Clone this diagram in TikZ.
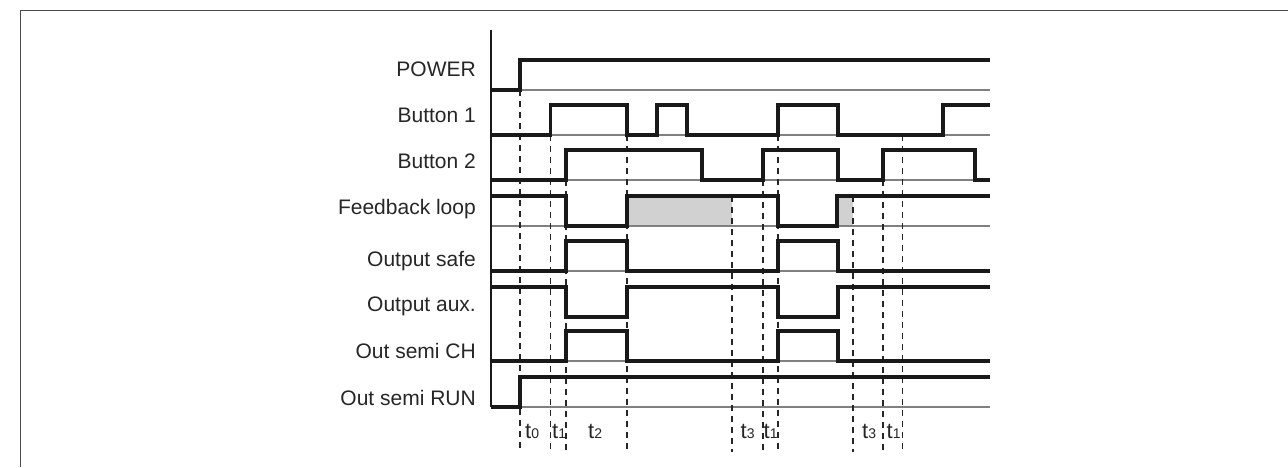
\documentclass[tikz,border=0pt]{standalone}
\usepackage{fontspec}
\setmainfont{Liberation Sans}
\newcommand\tsub[1]{t{\fontsize{14}{14}\selectfont #1}}
\begin{document}
\begin{tikzpicture}[x=1pt,y=-1pt,
  sig/.style={line width=3.1pt, line join=miter, black!90},
  baseln/.style={line width=1.3pt, black!50},
  guide/.style={line width=1.5pt, dash pattern=on 6pt off 5pt, black!85},
  lab/.style={anchor=base east, inner sep=0pt, font=\fontsize{21}{21}\selectfont, text=black!85},
  tlab/.style={anchor=base west, inner sep=0pt, font=\fontsize{22}{22}\selectfont, text=black!85},
  frameln/.style={line width=1pt, black!70}]
\useasboundingbox (0,0) rectangle (1288,467);
% frame
\draw[frameln] (20,467) -- (20,10) -- (1288,10);
% gray areas
\fill[black!18] (627,196) rectangle (732,226);
\fill[black!18] (837,196) rectangle (853,226);
% baselines
\foreach \y in {90,135,180,226,271,361,407} \draw[baseln] (491,\y) -- (990,\y);
% axis
\draw[line width=1.5pt, black!90] (491,30) -- (491,407);
% guides
\draw[guide] (520,90) -- (520,452);
\draw[guide] (550.5,135) -- (550.5,452);
\draw[guide] (566,180) -- (566,452);
\draw[guide] (627,135) -- (627,452);
\draw[guide] (732,196) -- (732,452);
\draw[guide] (763,180) -- (763,452);
\draw[guide] (778,135) -- (778,452);
\draw[guide] (853,196) -- (853,452);
\draw[guide] (883,180) -- (883,452);
\draw[guide] (902.7,135) -- (902.7,452);
% signals
\draw[sig] (491,90) -- (520,90) -- (520,60) -- (990,60);
\draw[sig] (491,135) -- (550.5,135) -- (550.5,105) -- (627,105) -- (627,135) -- (657,135) -- (657,105) -- (687,105) -- (687,135) -- (778,135) -- (778,105) -- (838,105) -- (838,135) -- (943,135) -- (943,105) -- (990,105);
\draw[sig] (491,180) -- (566,180) -- (566,150) -- (702,150) -- (702,180) -- (763,180) -- (763,150) -- (838,150) -- (838,180) -- (883,180) -- (883,150) -- (975,150) -- (975,180) -- (990,180);
\draw[sig] (491,196) -- (566,196) -- (566,226) -- (627,226) -- (627,196) -- (778,196) -- (778,226) -- (837,226) -- (837,196) -- (990,196);
\draw[sig] (491,271) -- (566,271) -- (566,241) -- (627,241) -- (627,271) -- (778,271) -- (778,241) -- (838,241) -- (838,271) -- (990,271);
\draw[sig] (491,287) -- (566,287) -- (566,317) -- (627,317) -- (627,287) -- (778,287) -- (778,317) -- (838,317) -- (838,287) -- (990,287);
\draw[sig] (491,361) -- (566,361) -- (566,331) -- (627,331) -- (627,361) -- (778,361) -- (778,331) -- (838,331) -- (838,361) -- (990,361);
\draw[sig] (491,407) -- (520,407) -- (520,377) -- (990,377);
% labels
\node[lab] (lpower) at (476,76.7) {POWER};
\node[lab] (lb1) at (476,122.3) {Button 1};
\node[lab] (lb2) at (476,168.3) {Button 2};
\node[lab] (lfb) at (476,214) {Feedback loop};
\node[lab] (lsafe) at (476,266) {Output safe};
\node[lab] (laux) at (476,311.7) {Output aux.};
\node[lab] (lch) at (476,358.3) {Out semi CH};
\node[lab] (lrun) at (476,405) {Out semi RUN};
% time labels
\node[tlab] (tz) at (525,438) {\tsub{0}};
\node[tlab] (ta) at (552,438) {\tsub{1}};
\node[tlab] (tb) at (588,438) {\tsub{2}};
\node[tlab] (tc) at (740.5,438) {\tsub{3}};
\node[tlab] (td) at (763.5,438) {\tsub{1}};
\node[tlab] (te) at (862,438) {\tsub{3}};
\node[tlab] (tf) at (886.5,438) {\tsub{1}};
\end{tikzpicture}
\end{document}
